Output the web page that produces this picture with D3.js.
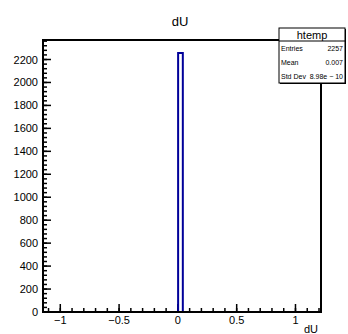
<!DOCTYPE html>
<html><head><meta charset="utf-8">
<script src="https://cdn.jsdelivr.net/npm/d3@7"></script>
<style>body{margin:0;background:#fff}svg{display:block;font-family:"Liberation Sans",Arial,sans-serif}</style>
</head><body><svg id="c" width="348" height="334"></svg>
<script>
const title = "dU";
const xTitle = "dU";
const binEdges = [0.002, 0.042];
const binCounts = [2257];
const xTicks = [-1, -0.5, 0, 0.5, 1];
const yTicks = [0, 200, 400, 600, 800, 1000, 1200, 1400, 1600, 1800, 2000, 2200];
const statNames = ["Entries", "Mean", "Std Dev"];
const statValues = ["2257", "0.007", "8.98e \u2212 10"];
const statTitle = "htemp";

const svg = d3.select("#c");
const L = 43, R = 321, T = 40, B = 312;
const x = d3.scaleLinear().domain([-1.147, 1.217]).range([L, R]);
const y = d3.scaleLinear().domain([0, 2370]).range([B, T]);

// minor ticks
const xMinor = d3.range(-11, 13).map(i => i / 10).filter(v => x(v) >= L && x(v) <= R);
const yMinor = d3.range(0, 2370, 40);
const g = svg.append("g");
g.selectAll(".xm").data(xMinor).join("line")
  .attr("x1", d => x(d)).attr("x2", d => x(d)).attr("y1", B).attr("y2", B - 4)
  .attr("stroke", "#000").attr("stroke-width", 1.5);
g.selectAll(".xM").data(xTicks).join("line")
  .attr("x1", d => x(d)).attr("x2", d => x(d)).attr("y1", B).attr("y2", B - 8)
  .attr("stroke", "#000").attr("stroke-width", 1.5);
g.selectAll(".ym").data(yMinor).join("line")
  .attr("x1", L).attr("x2", L + 4).attr("y1", d => y(d)).attr("y2", d => y(d))
  .attr("stroke", "#000").attr("stroke-width", 1.5);
g.selectAll(".yM").data(yTicks).join("line")
  .attr("x1", L).attr("x2", L + 8).attr("y1", d => y(d)).attr("y2", d => y(d))
  .attr("stroke", "#000").attr("stroke-width", 1.5);

// histogram outline
const pts = [];
binCounts.forEach((c, i) => {
  pts.push([x(binEdges[i]), y(0)]);
  pts.push([x(binEdges[i]), y(c)]);
  pts.push([x(binEdges[i + 1]), y(c)]);
  pts.push([x(binEdges[i + 1]), y(0)]);
});
svg.append("path").attr("d", d3.line()(pts)).attr("fill", "none")
  .attr("stroke", "#000099").attr("stroke-width", 2);

// frame
svg.append("rect").attr("x", L).attr("y", T).attr("width", R - L).attr("height", B - T)
  .attr("fill", "none").attr("stroke", "#000").attr("stroke-width", 2);

// labels
const fmt = d => (d < 0 ? "\u2212" : "") + Math.abs(d);
svg.selectAll(".xl").data(xTicks).join("text")
  .attr("x", d => x(d)).attr("y", 324).attr("text-anchor", "middle")
  .attr("font-size", 11).text(fmt);
svg.selectAll(".yl").data(yTicks).join("text")
  .attr("x", 38).attr("y", d => y(d) + 4).attr("text-anchor", "end")
  .attr("font-size", 11).text(d => d);
svg.append("text").attr("x", 318).attr("y", 333).attr("text-anchor", "end")
  .attr("font-size", 11).text(xTitle);
svg.append("text").attr("x", 180).attr("y", 26).attr("text-anchor", "middle")
  .attr("font-size", 13).text(title);

// stats box
const bx = 279, by = 28, bw = 66, bh = 55;
svg.append("rect").attr("x", bx + 1).attr("y", by + 1).attr("width", bw).attr("height", bh).attr("fill", "#000");
svg.append("rect").attr("x", bx).attr("y", by).attr("width", bw).attr("height", bh)
  .attr("fill", "#fff").attr("stroke", "#000").attr("stroke-width", 1);
svg.append("line").attr("x1", bx).attr("x2", bx + bw).attr("y1", 41).attr("y2", 41)
  .attr("stroke", "#000").attr("stroke-width", 1);
svg.append("text").attr("x", bx + bw / 2).attr("y", 38.5).attr("text-anchor", "middle")
  .attr("font-size", 11).text(statTitle);
const rows = [48, 62, 76];
statNames.forEach((n, i) => {
  svg.append("text").attr("x", bx + 2).attr("y", rows[i] + 2.5).attr("font-size", 7).text(n);
  svg.append("text").attr("x", bx + bw - 2).attr("y", rows[i] + 2.5).attr("text-anchor", "end")
    .attr("font-size", 7).text(statValues[i]);
});
</script></body></html>
